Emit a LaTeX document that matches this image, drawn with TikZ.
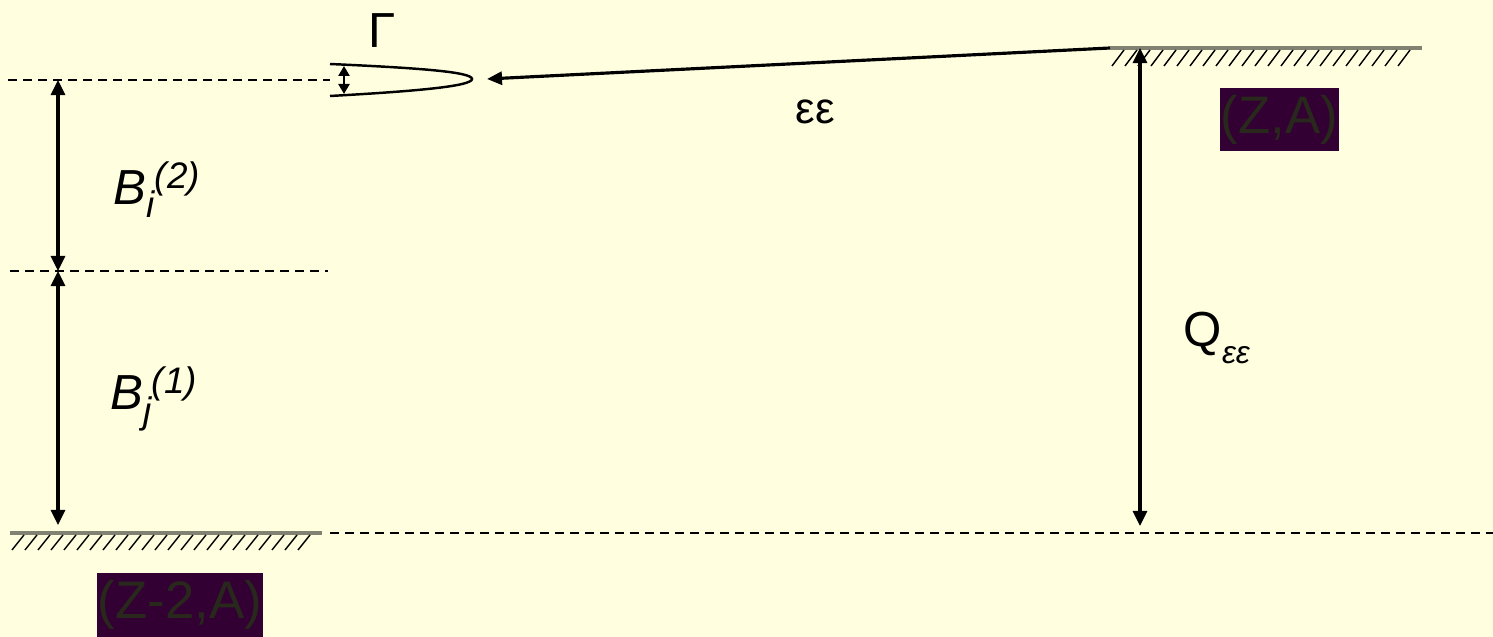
\documentclass[tikz,border=0pt]{standalone}
\usepackage{fontspec}
\setmainfont{Liberation Sans}
\usepackage{tikz}
\usetikzlibrary{arrows.meta, positioning, calc}
\definecolor{paperfill}{RGB}{255,255,224}
\definecolor{nucfill}{RGB}{51,0,51}
\definecolor{nuctext}{RGB}{40,40,28}
\definecolor{groundgray}{RGB}{130,130,115}
\tikzset{
  levelline/.style={dashed, dash pattern=on 0.09cm off 0.06cm,
                    line width=0.6pt, black},
  groundline/.style={line width=1.1pt, color=groundgray},
  hatchline/.style={line width=0.4pt, black},
  gap/.style={{Triangle[length=0.15cm,width=0.14cm]}-{Triangle[length=0.15cm,width=0.14cm]},
              line width=0.9pt},
  decayarrow/.style={{Triangle[length=0.15cm,width=0.13cm]}-, line width=0.9pt},
  nucbox/.style={rectangle, fill=nucfill, text=nuctext, inner sep=0pt,
                 minimum width=1.19cm, minimum height=0.63cm,
                 font=\fontsize{15}{16}\selectfont},
  lbl/.style={inner sep=0pt, font=\fontsize{14}{16}\selectfont}
}
\newcommand{\smallidx}{\fontsize{10.5}{12}\selectfont}
\newcommand{\qidx}{\fontsize{9}{10}\selectfont}
\begin{document}
\begin{tikzpicture}[x=0.01cm, y=-0.01cm]

  \fill[paperfill] (0,0) rectangle (1493,637);
  \useasboundingbox (0,0) rectangle (1493,637);

  %% Levels
  \coordinate (topL)  at (8,80);
  \coordinate (topR)  at (330,80);
  \coordinate (midL)  at (10,271);
  \coordinate (midR)  at (328,271);
  \coordinate (botL)  at (10,533);
  \coordinate (botM)  at (322,533);
  \coordinate (botR)  at (1493,533);
  \coordinate (gsL)   at (1110,48);
  \coordinate (gsR)   at (1422,48);

  \draw[levelline] (topL) -- (topR);
  \draw[levelline] (midL) -- (midR);
  \draw[levelline] ($(botM)+(8,0)$) -- (botR);

  %% Ground states with hatching
  \draw[groundline] (botL) -- (botM);
  \foreach \x in {12,25,...,310}
    \draw[hatchline] (\x,550) -- ++(12,-15);
  \draw[groundline] (gsL) -- (gsR);
  \foreach \x in {1112,1125,...,1410}
    \draw[hatchline] (\x,66) -- ++(12,-16);

  %% Resonance line shape
  \coordinate (resU) at (330,64);
  \coordinate (resT) at (472,79);
  \coordinate (resD) at (330,96);
  \draw[line width=0.7pt] (resU) .. controls (420,68) and (472,72) .. (resT)
        .. controls (472,86) and (420,91) .. (resD);
  \coordinate (wU) at (344,66);
  \coordinate (wD) at (344,94);
  \draw[{Triangle[length=0.1cm,width=0.11cm]}-{Triangle[length=0.1cm,width=0.11cm]},
        line width=0.8pt] (wU) -- (wD);

  %% Gaps
  \coordinate (aT) at (58,80);
  \coordinate (aM) at (58,271);
  \coordinate (aB) at (58,525);
  \draw[gap] (aT) -- (aM);
  \draw[gap] (aM) -- (aB);
  \coordinate (qT) at (1140,48);
  \coordinate (qB) at (1140,526);
  \draw[gap] (qT) -- (qB);

  %% Double electron capture
  \coordinate (capTip) at (487,79);
  \draw[decayarrow] (capTip) -- (gsL);

  %% Labels
  \node[lbl] (gamma) at (382,31) {Γ};
  \node[lbl, font=\fontsize{12.5}{14}\selectfont] (ee) at (815,112) {εε};
  \node[lbl, anchor=base west] (b2) at (113,205)
    {\itshape B\rlap{\raisebox{-0.5ex}{\smallidx i}}\,\raisebox{0.65ex}{\smallidx (2)}};
  \node[lbl, anchor=base west] (b1) at (110,410)
    {\itshape B\rlap{\raisebox{-0.5ex}{\smallidx j}}\,\raisebox{0.65ex}{\smallidx (1)}};
  \node[lbl, anchor=base west] (qee) at (1183,347)
    {Q\raisebox{-0.65ex}{\qidx\itshape εε}};

  \node[nucbox] (parent) at (1279.5,119.5) {(Z,A)};
  \node[nucbox, minimum width=1.66cm] (daughter) at (180,605) {(Z-2,A)};

\end{tikzpicture}
\end{document}
